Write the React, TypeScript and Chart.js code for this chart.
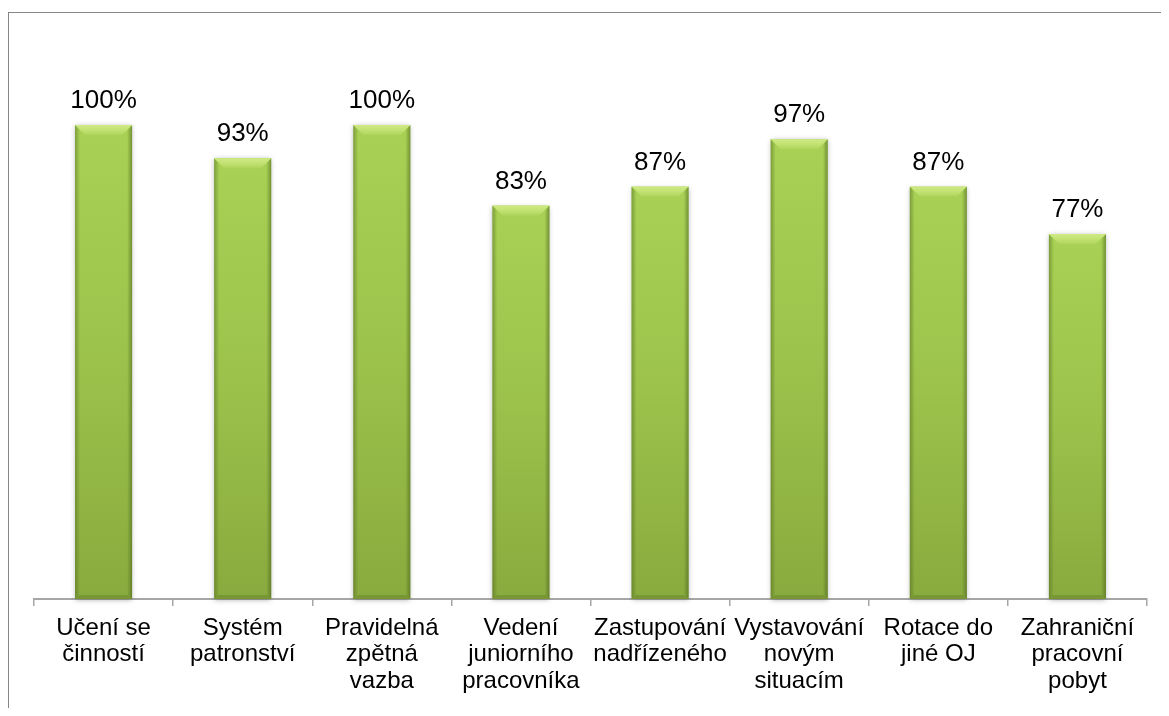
import React, { useEffect, useRef } from "react";
import { Chart, registerables } from "chart.js";

Chart.register(...registerables);

const categories: string[][] = [
  ["Učení se", "činností"],
  ["Systém", "patronství"],
  ["Pravidelná", "zpětná", "vazba"],
  ["Vedení", "juniorního", "pracovníka"],
  ["Zastupování", "nadřízeného"],
  ["Vystavování", "novým", "situacím"],
  ["Rotace do", "jiné OJ"],
  ["Zahraniční", "pracovní", "pobyt"],
];

const values: number[] = [100, 93, 100, 83, 87, 97, 87, 77];

const FONT = '"Liberation Sans", Arial, sans-serif';

const bevelPlugin = {
  id: "bevelBars",
  afterDatasetsDraw(chart: any) {
    const ctx: CanvasRenderingContext2D = chart.ctx;
    const meta = chart.getDatasetMeta(0);
    meta.data.forEach((el: any, i: number) => {
      const { x, y, base, width } = el.getProps(["x", "y", "base", "width"], true);
      const l = x - width / 2;
      const r = x + width / 2;
      const t = Math.min(y, base);
      const b = Math.max(y, base);
      const h = b - t;
      ctx.save();
      ctx.shadowColor = "rgba(0,0,0,0.3)";
      ctx.shadowBlur = 5;
      ctx.shadowOffsetX = 0;
      ctx.shadowOffsetY = 1;
      const g = ctx.createLinearGradient(0, t, 0, b);
      g.addColorStop(0, "#a9d155");
      g.addColorStop(0.5, "#9cc24b");
      g.addColorStop(1, "#89aa3e");
      ctx.fillStyle = g;
      ctx.fillRect(l, t, width, h);
      ctx.shadowColor = "transparent";
      ctx.shadowBlur = 0;
      ctx.shadowOffsetY = 0;
      const sb = 5;
      const gl = ctx.createLinearGradient(l, 0, l + sb, 0);
      gl.addColorStop(0, "rgba(70,95,25,0.45)");
      gl.addColorStop(1, "rgba(70,95,25,0)");
      ctx.fillStyle = gl;
      ctx.beginPath();
      ctx.moveTo(l, t);
      ctx.lineTo(l + sb, t + sb);
      ctx.lineTo(l + sb, b - sb);
      ctx.lineTo(l, b);
      ctx.closePath();
      ctx.fill();
      const gr = ctx.createLinearGradient(r - sb, 0, r, 0);
      gr.addColorStop(0, "rgba(70,95,25,0)");
      gr.addColorStop(1, "rgba(70,95,25,0.55)");
      ctx.fillStyle = gr;
      ctx.beginPath();
      ctx.moveTo(r, t);
      ctx.lineTo(r - sb, t + sb);
      ctx.lineTo(r - sb, b - sb);
      ctx.lineTo(r, b);
      ctx.closePath();
      ctx.fill();
      // top bevel
      const tb = 10;
      const gt = ctx.createLinearGradient(0, t, 0, t + tb);
      gt.addColorStop(0, "#cfea85");
      gt.addColorStop(0.5, "#c2e272");
      gt.addColorStop(1, "#afd45d");
      ctx.fillStyle = gt;
      ctx.beginPath();
      ctx.moveTo(l, t);
      ctx.lineTo(r, t);
      ctx.lineTo(r - tb, t + tb);
      ctx.lineTo(l + tb, t + tb);
      ctx.closePath();
      ctx.fill();
      // bottom bevel
      const bb = 4;
      ctx.fillStyle = "rgba(60,85,20,0.22)";
      ctx.beginPath();
      ctx.moveTo(l, b);
      ctx.lineTo(r, b);
      ctx.lineTo(r - bb, b - bb);
      ctx.lineTo(l + bb, b - bb);
      ctx.closePath();
      ctx.fill();
      ctx.restore();

      ctx.save();
      ctx.fillStyle = "#000";
      ctx.font = `26px ${FONT}`;
      ctx.textAlign = "center";
      ctx.textBaseline = "alphabetic";
      ctx.fillText(`${values[i]}%`, x, t - 17);
      ctx.restore();
    });
  },
};

export default function App() {
  const ref = useRef<HTMLCanvasElement | null>(null);

  useEffect(() => {
    document.body.style.overflow = "hidden";
    if (!ref.current) return;
    const chart = new Chart(ref.current, {
      type: "bar",
      data: {
        labels: categories,
        datasets: [
          {
            data: values,
            backgroundColor: "rgba(0,0,0,0)",
            borderWidth: 0,
            barPercentage: 0.41,
            categoryPercentage: 1,
          },
        ],
      },
      options: {
        responsive: false,
        maintainAspectRatio: false,
        animation: false,
        layout: { padding: { left: 26, right: 22, top: 117, bottom: 0 } },
        plugins: {
          legend: { display: false },
          tooltip: { enabled: false },
        },
        scales: {
          x: {
            grid: {
              display: true,
              drawOnChartArea: false,
              drawTicks: true,
              tickLength: 7,
              color: "#a6a6a6",
              lineWidth: 1.5,
            },
            border: { display: true, color: "#a6a6a6", width: 2 },
            ticks: {
              color: "#000",
              font: { family: FONT, size: 24, lineHeight: 1.1 },
              maxRotation: 0,
              minRotation: 0,
              autoSkip: false,
              padding: 9,
            },
            afterFit: (scale: any) => {
              scale.height = 109;
            },
          },
          y: {
            display: false,
            min: 0,
            max: 100,
          },
        },
      },
      plugins: [bevelPlugin],
    });
    return () => chart.destroy();
  }, []);

  return (
    <div style={{ position: "relative", width: 1161, height: 700, overflow: "hidden" }}>
      <div
        style={{
          position: "absolute",
          left: 0,
          top: 4,
          width: 1300,
          height: 900,
          border: "1px solid #868686",
          boxSizing: "border-box",
        }}
      />
      <canvas
        ref={ref}
        width={1161}
        height={700}
        style={{ position: "absolute", left: 0, top: 0, display: "block" }}
      />
    </div>
  );
}
